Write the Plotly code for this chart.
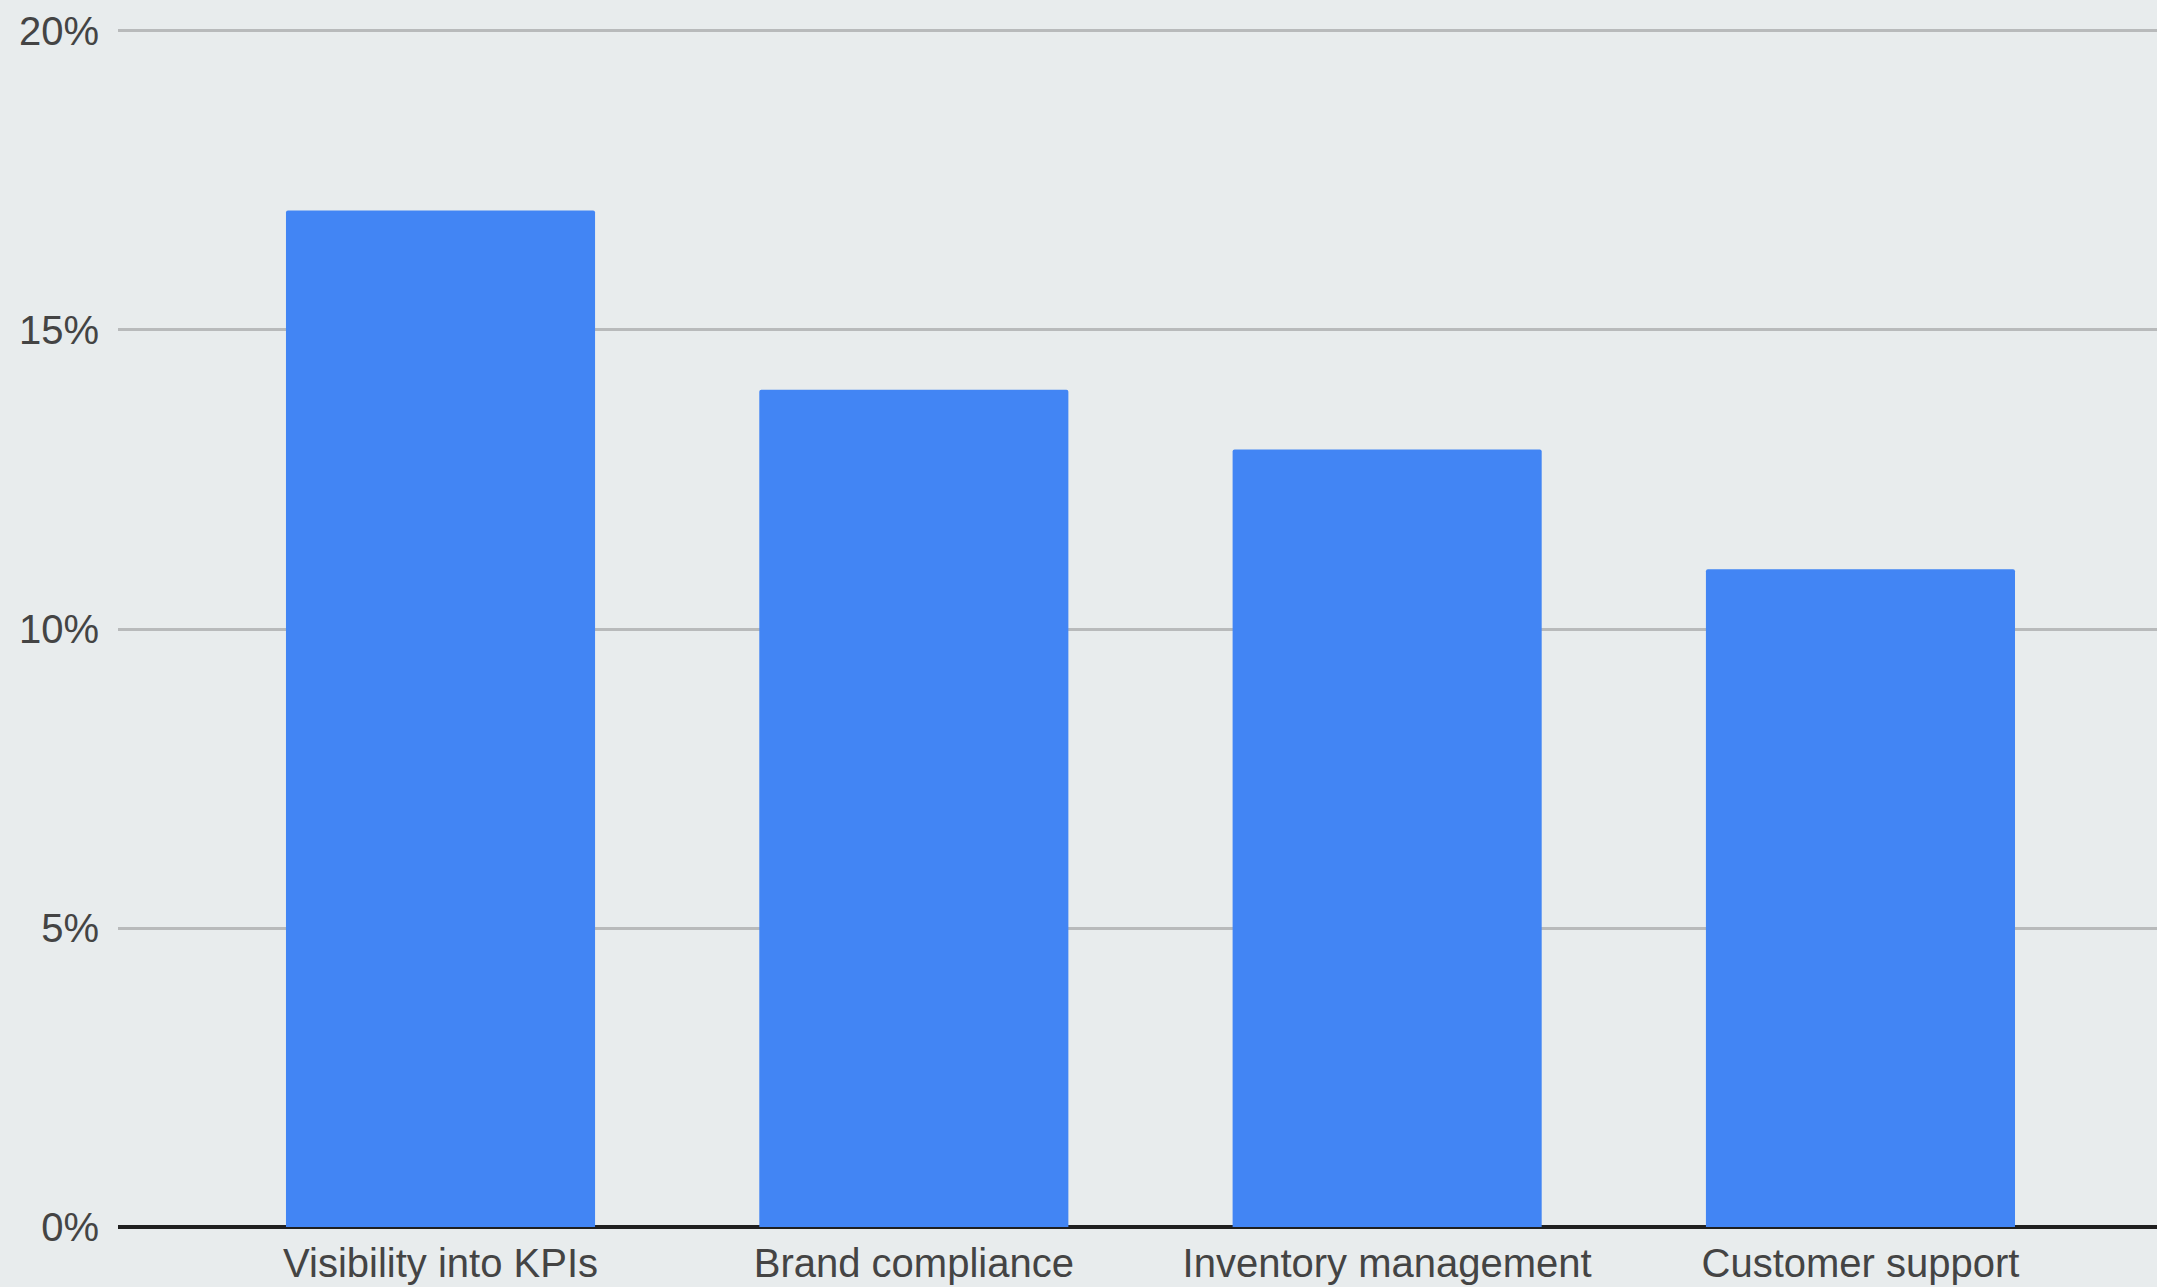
import plotly.graph_objects as go

categories = ["Visibility into KPIs", "Brand compliance", "Inventory management", "Customer support"]
values = [17, 14, 13, 11]
tick_vals = [0, 5, 10, 15, 20]
tick_text = ["0%", "5%", "10%", "15%", "20%"]

BG = "#E8ECED"
BAR = "#4285F4"
FONT = "Liberation Sans, Arial, sans-serif"

fig = go.Figure(
    go.Bar(
        x=categories,
        y=values,
        marker=dict(color=BAR, line=dict(width=0)),
        width=0.653,
    )
)

fig.update_layout(
    width=2157,
    height=1287,
    paper_bgcolor=BG,
    plot_bgcolor=BG,
    margin=dict(l=118, r=0, t=25, b=57, autoexpand=False),
    showlegend=False,
    barcornerradius=2,
    font=dict(family=FONT, size=40, color="#444444"),
)

fig.update_xaxes(
    range=[-0.6814, 3.6265],
    showgrid=False,
    showline=False,
    zeroline=False,
    ticks="",
    ticklabelstandoff=6,
    automargin=False,
    tickfont=dict(size=40, color="#444444", family=FONT),
    fixedrange=True,
)

fig.update_yaxes(
    range=[-0.05, 20.1],
    tickvals=tick_vals,
    ticktext=tick_text,
    showgrid=True,
    gridcolor="#B8BABB",
    gridwidth=3,
    zeroline=True,
    zerolinecolor="#1f1f1f",
    zerolinewidth=4,
    showline=False,
    ticks="",
    ticklabelstandoff=18,
    automargin=False,
    tickfont=dict(size=40, color="#444444", family=FONT),
    fixedrange=True,
)

fig.write_html("out.html")
